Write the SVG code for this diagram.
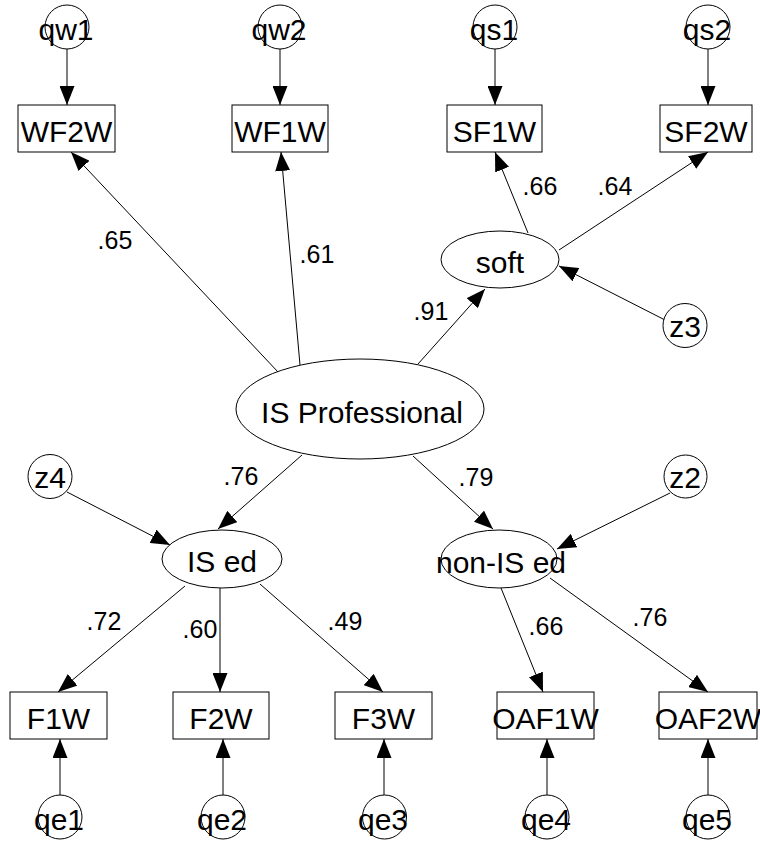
<svg xmlns="http://www.w3.org/2000/svg" width="760" height="841" viewBox="0 0 760 841">
  <style>
    .edge { stroke: #000; stroke-width: 1; fill: none; marker-end: url(#arrow); }
    .box, .lat, .err { fill: #fff; stroke: #000; stroke-width: 1; }
    .name { font-family: "Liberation Sans", Arial, sans-serif; font-size: 30px; fill: #000; text-anchor: middle; }
    .coef { font-family: "Liberation Sans", Arial, sans-serif; font-size: 25px; fill: #000; text-anchor: middle; }
  </style>
  <defs>
    <marker id="arrow" markerUnits="userSpaceOnUse" markerWidth="19" markerHeight="15" refX="19" refY="7.5" orient="auto">
      <path d="M0,0 L19,7.5 L0,15 Z" fill="#000"/>
    </marker>
  </defs>
  <rect width="760" height="841" fill="#fff"/>

  <!-- paths and error terms -->
  <g id="connectors">
    <line class="edge" x1="67" y1="49" x2="67" y2="105"/>
    <line class="edge" x1="280" y1="49" x2="280" y2="105"/>
    <line class="edge" x1="495" y1="49" x2="495" y2="105"/>
    <line class="edge" x1="708" y1="49" x2="708" y2="105"/>
    <line class="edge" x1="278" y1="372" x2="71" y2="152"/>
    <line class="edge" x1="300" y1="365" x2="281" y2="152"/>
    <line class="edge" x1="418" y1="364" x2="485" y2="289"/>
    <line class="edge" x1="528" y1="233" x2="495" y2="152"/>
    <line class="edge" x1="559" y1="250" x2="708" y2="152"/>
    <line class="edge" x1="665" y1="320" x2="559" y2="266"/>
    <line class="edge" x1="302" y1="455" x2="218" y2="529"/>
    <line class="edge" x1="413" y1="456" x2="493" y2="529"/>
    <line class="edge" x1="67" y1="492" x2="170" y2="545"/>
    <line class="edge" x1="670" y1="493" x2="557" y2="549"/>
    <line class="edge" x1="185" y1="586" x2="58" y2="692"/>
    <line class="edge" x1="220" y1="588" x2="220" y2="692"/>
    <line class="edge" x1="260" y1="584" x2="383" y2="692"/>
    <line class="edge" x1="501" y1="588" x2="543" y2="692"/>
    <line class="edge" x1="550" y1="578" x2="708" y2="692"/>
    <line class="edge" x1="60" y1="795" x2="60" y2="739"/>
    <line class="edge" x1="223" y1="795" x2="223" y2="739"/>
    <line class="edge" x1="384" y1="795" x2="384" y2="739"/>
    <line class="edge" x1="547" y1="795" x2="547" y2="739"/>
    <line class="edge" x1="708" y1="795" x2="708" y2="739"/>
  </g>

  <!-- path coefficients -->
  <g id="coefficients">
    <text class="coef" x="115" y="249">.65</text>
    <text class="coef" x="317" y="263">.61</text>
    <text class="coef" x="431" y="320">.91</text>
    <text class="coef" x="540" y="195">.66</text>
    <text class="coef" x="615" y="195">.64</text>
    <text class="coef" x="241" y="485">.76</text>
    <text class="coef" x="476" y="486">.79</text>
    <text class="coef" x="104" y="630">.72</text>
    <text class="coef" x="200" y="638">.60</text>
    <text class="coef" x="345" y="630">.49</text>
    <text class="coef" x="546" y="635">.66</text>
    <text class="coef" x="650" y="626">.76</text>
  </g>

  <!-- latent variables -->
  <g id="is-professional"><ellipse class="lat" cx="360" cy="409" rx="124" ry="50"/><text class="name" x="362" y="423">IS Professional</text></g>
  <g id="soft"><ellipse class="lat" cx="500" cy="259.5" rx="59" ry="28.5"/><text class="name" x="500" y="273">soft</text></g>
  <g id="is-ed"><ellipse class="lat" cx="222" cy="559" rx="60" ry="29"/><text class="name" x="222" y="572">IS ed</text></g>
  <g id="non-is-ed"><ellipse class="lat" cx="499" cy="559" rx="58" ry="29"/><text class="name" x="501" y="573">non-IS ed</text></g>

  <!-- observed indicators -->
  <g id="WF2W"><rect class="box" x="18" y="105" width="97" height="47"/><text class="name" x="66.5" y="142">WF2W</text></g>
  <g id="WF1W"><rect class="box" x="232" y="105" width="96" height="47"/><text class="name" x="280" y="142">WF1W</text></g>
  <g id="SF1W"><rect class="box" x="447" y="105" width="95" height="47"/><text class="name" x="494.5" y="142">SF1W</text></g>
  <g id="SF2W"><rect class="box" x="660" y="105" width="92" height="47"/><text class="name" x="706" y="142">SF2W</text></g>
  <g id="F1W"><rect class="box" x="10" y="692" width="97" height="47"/><text class="name" x="58.5" y="729">F1W</text></g>
  <g id="F2W"><rect class="box" x="173" y="692" width="96" height="47"/><text class="name" x="221" y="729">F2W</text></g>
  <g id="F3W"><rect class="box" x="335" y="692" width="97" height="47"/><text class="name" x="383.5" y="729">F3W</text></g>
  <g id="OAF1W"><rect class="box" x="497" y="692" width="97" height="47"/><text class="name" x="545.5" y="729">OAF1W</text></g>
  <g id="OAF2W"><rect class="box" x="659" y="692" width="98" height="47"/><text class="name" x="708" y="729">OAF2W</text></g>

  <!-- error and disturbance terms -->
  <g id="qw1"><circle class="err" cx="67" cy="27" r="22"/><text class="name" x="66" y="40">qw1</text></g>
  <g id="qw2"><circle class="err" cx="280" cy="27" r="22"/><text class="name" x="279" y="40">qw2</text></g>
  <g id="qs1"><circle class="err" cx="495" cy="27" r="22"/><text class="name" x="494" y="40">qs1</text></g>
  <g id="qs2"><circle class="err" cx="708" cy="27" r="22"/><text class="name" x="707" y="40">qs2</text></g>
  <g id="z3"><circle class="err" cx="685" cy="325.5" r="22"/><text class="name" x="685" y="337">z3</text></g>
  <g id="z4"><circle class="err" cx="50" cy="476.5" r="22"/><text class="name" x="50" y="488">z4</text></g>
  <g id="z2"><circle class="err" cx="685.5" cy="476.5" r="21.5"/><text class="name" x="685" y="488">z2</text></g>
  <g id="qe1"><circle class="err" cx="60" cy="817" r="22"/><text class="name" x="59" y="830">qe1</text></g>
  <g id="qe2"><circle class="err" cx="223" cy="817" r="22"/><text class="name" x="222" y="830">qe2</text></g>
  <g id="qe3"><circle class="err" cx="384.5" cy="817" r="22"/><text class="name" x="383" y="830">qe3</text></g>
  <g id="qe4"><circle class="err" cx="547" cy="817" r="22"/><text class="name" x="546" y="830">qe4</text></g>
  <g id="qe5"><circle class="err" cx="708" cy="817" r="22"/><text class="name" x="707" y="830">qe5</text></g>
</svg>
